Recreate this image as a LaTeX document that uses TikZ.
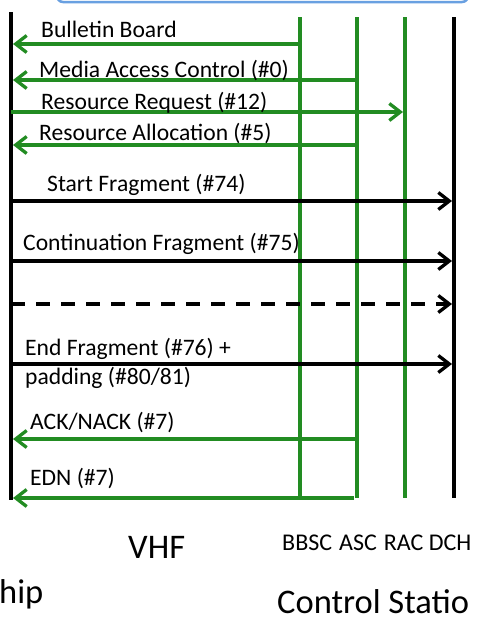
\documentclass[tikz,border=0pt]{standalone}
\usepackage{fontspec}
\setmainfont{Carlito}
\usetikzlibrary{arrows.meta}
\definecolor{msggreen}{RGB}{34,140,34}
\definecolor{boxblue}{RGB}{105,160,225}
\begin{document}
\begin{tikzpicture}[x=1pt,y=-1pt,
  life/.style={line width=3.3pt},
  glife/.style={life,draw=msggreen},
  blife/.style={life,draw=black},
  msg/.style={line width=3.3pt,-{Straight Barb[length=11pt,width=17pt]}},
  gmsg/.style={msg,draw=msggreen},
  bmsg/.style={msg,draw=black},
  lbl/.style={anchor=base west,inner sep=0pt,font=\fontsize{23.6}{28}\selectfont},
  big/.style={anchor=base west,inner sep=0pt,font=\fontsize{34.5}{40}\selectfont},
  tagline/.style={anchor=base west,inner sep=0pt,font=\fontsize{24}{28}\selectfont}
]
\useasboundingbox (0,0) rectangle (477,619);
\clip (0,0) rectangle (477,619);
\fill[white] (0,0) rectangle (477,619);

% top box (cut off)
\draw[boxblue,line width=2.5pt,rounded corners=6pt] (57,-30) rectangle (468,2);

% lifelines
\coordinate (shipT) at (11,12);  \coordinate (shipB) at (11,500);
\coordinate (bbscT) at (300,17); \coordinate (bbscB) at (300,498);
\coordinate (ascT) at (357,17);  \coordinate (ascB) at (357,498);
\coordinate (racT) at (405,17);  \coordinate (racB) at (405,498);
\coordinate (dchT) at (454,17);  \coordinate (dchB) at (454,498);
\draw[blife] (shipT) -- (shipB);
\draw[glife] (bbscT) -- (bbscB);
\draw[glife] (ascT) -- (ascB);
\draw[glife] (racT) -- (racB);
\draw[blife] (dchT) -- (dchB);

% message end points
\coordinate (m1s) at (300,44);  \coordinate (m1e) at (13,44);
\coordinate (m2s) at (357,80);  \coordinate (m2e) at (13,80);
\coordinate (m3s) at (11,112);  \coordinate (m3e) at (403,112);
\coordinate (m4s) at (357,145); \coordinate (m4e) at (13,145);
\coordinate (m5s) at (11,201);  \coordinate (m5e) at (452,201);
\coordinate (m6s) at (11,261);  \coordinate (m6e) at (452,261);
\coordinate (m7s) at (11,304);  \coordinate (m7e) at (452,304);
\coordinate (m8s) at (11,364);  \coordinate (m8e) at (452,364);
\coordinate (m9s) at (357,439); \coordinate (m9e) at (13,439);
\coordinate (m10s) at (354,498); \coordinate (m10e) at (13,498);

\draw[gmsg] (m1s) -- (m1e);
\draw[gmsg] (m2s) -- (m2e);
\draw[gmsg] (m3s) -- (m3e);
\draw[gmsg] (m4s) -- (m4e);
\draw[bmsg] (m5s) -- (m5e);
\draw[bmsg] (m6s) -- (m6e);
\draw[bmsg,dash pattern=on 14pt off 11pt] (m7s) -- (m7e);
\draw[bmsg] (m8s) -- (m8e);
\draw[gmsg] (m9s) -- (m9e);
\draw[gmsg] (m10s) -- (m10e);

% labels
\node[lbl] (l1) at (41,37) {Bulletin Board};
\node[lbl] (l2) at (39,77) {Media Access Control (\#0)};
\node[lbl] (l3) at (41,109) {Resource Request (\#12)};
\node[lbl] (l4) at (39,140) {Resource Allocation (\#5)};
\node[lbl] (l5) at (47,191) {Start Fragment (\#74)};
\node[lbl] (l6) at (23,250) {Continuation Fragment (\#75)};
\node[lbl] (l7a) at (25,355) {End Fragment (\#76) +};
\node[lbl] (l7b) at (25,384) {padding (\#80/81)};
\node[lbl] (l8) at (30,429) {ACK/NACK (\#7)};
\node[lbl] (l9) at (30,485) {EDN (\#7)};

% bottom captions
\node[big] (vhf) at (128,558) {VHF};
\node[tagline] (chans) at (282,550) {BBSC\hspace{7pt}ASC\hspace{7pt}RAC DCH};
\node[big] (ship) at (-1,603) {hip};
\node[big] (cs) at (277,613) {Control Statio};
\end{tikzpicture}
\end{document}
